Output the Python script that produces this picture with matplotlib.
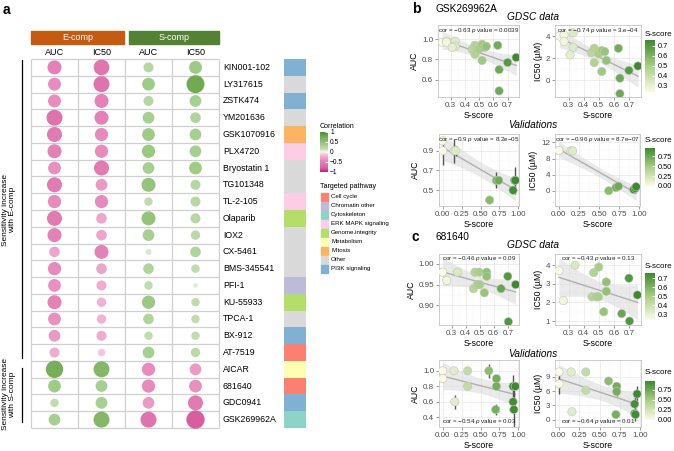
import matplotlib
matplotlib.use("Agg")
import matplotlib.pyplot as plt
import numpy as np
from matplotlib.colors import LinearSegmentedColormap, Normalize
from matplotlib.cm import ScalarMappable
from matplotlib.patches import Rectangle

plt.rcParams["font.family"] = ["Liberation Sans", "DejaVu Sans"]
plt.rcParams["mathtext.fontset"] = "custom"
plt.rcParams["mathtext.it"] = "Liberation Sans:italic"
plt.rcParams["mathtext.rm"] = "Liberation Sans"

W, H = 674, 451

# ---- panel a data ----
drugs = ["KIN001-102", "LY317615", "ZSTK474", "YM201636", "GSK1070916", "PLX4720",
         "Bryostatin 1", "TG101348", "TL-2-105", "Olaparib", "IOX2", "CX-5461",
         "BMS-345541", "PFI-1", "KU-55933", "TPCA-1", "BX-912", "AT-7519",
         "AICAR", "681640", "GDC0941", "GSK269962A"]
drug_pathway = ["PI3K signaling", "Other", "PI3K signaling", "Other", "Mitosis",
                "ERK MAPK signaling", "Other", "Other", "ERK MAPK signaling",
                "Genome.integrity", "Other", "Other", "Other", "Chromatin other",
                "Genome.integrity", "Other", "PI3K signaling", "Cell cycle",
                "Metabolism", "Cell cycle", "PI3K signaling", "Cytoskeleton"]
pathways = ["Cell cycle", "Chromatin other", "Cytoskeleton", "ERK MAPK signaling",
            "Genome.integrity", "Metabolism", "Mitosis", "Other", "PI3K signaling"]
pathway_colors = ["#fb8072", "#bebada", "#8dd3c7", "#fccde5", "#b3de69",
                  "#ffffb3", "#fdb462", "#d9d9d9", "#80b1d3"]
col_labels = ["AUC", "IC50", "AUC", "IC50"]
e_auc = [-0.47, -0.40, -0.40, -0.61, -0.54, -0.47, -0.39, -0.54, -0.42, -0.54, -0.47,
         -0.27, -0.42, -0.39, -0.47, -0.39, -0.33, -0.24, 0.72, 0.39, 0.17, 0.33]
e_ic50 = [-0.59, -0.61, -0.47, -0.47, -0.42, -0.42, -0.54, -0.33, -0.42, -0.27, -0.27,
          -0.47, -0.27, -0.24, -0.21, -0.21, -0.24, -0.13, 0.61, 0.33, 0.33, 0.61]
s_auc = [0.24, 0.39, 0.24, 0.33, 0.39, 0.42, 0.33, 0.47, 0.17, 0.47, 0.33,
         0.09, 0.27, 0.17, 0.42, 0.27, 0.17, 0.33, -0.42, -0.42, -0.33, -0.61]
s_ic50 = [0.40, 0.77, 0.33, 0.27, 0.33, 0.33, 0.39, 0.24, 0.24, 0.24, 0.21,
          0.27, 0.17, 0.06, 0.17, 0.17, 0.17, 0.21, -0.33, -0.39, -0.54, -0.80]

# ---- panel b data (GSK269962A) ----
b_gdsc_s = [0.24, 0.27, 0.27, 0.33, 0.33, 0.31, 0.45, 0.47, 0.47, 0.50,
            0.52, 0.52, 0.54, 0.55, 0.63, 0.64, 0.64, 0.70, 0.76]
b_gdsc_auc = [0.97, 0.98, 0.97, 0.98, 0.93, 0.92, 0.90, 0.94, 0.85, 0.90,
              0.95, 0.79, 0.92, 0.93, 0.94, 0.70, 0.49, 0.77, 0.82]
b_gdsc_ic50 = [4.0, 4.1, 3.5, 4.3, 3.0, 2.3, 2.5, 2.9, 1.6, 2.4,
               2.7, 0.8, 2.6, 1.8, 2.9, 0.2, -1.2, 0.9, 1.3]
b_val_s = [0.00, 0.00, 0.15, 0.17, 0.62, 0.71, 0.74, 0.93, 0.95, 0.96]
b_val_auc = [1.00, 0.90, 0.90, 0.90, 0.40, 0.60, 0.60, 0.50, 0.60, 0.60]
b_val_auc_err = [0.0, 0.14, 0.12, 0.05, 0.0, 0.08, 0.0, 0.0, 0.14, 0.05]
b_val_ic50 = [10.0, 10.0, 9.9, 9.9, 0.0, 0.8, 1.1, 0.3, 0.6, 1.0]
b_notes = ["cor = −0.63 $p$ value = 0.0039", "cor = −0.74 $p$ value = 3.e−04",
           "cor = −0.9 $p$ value = 8.2e−05", "cor = −0.96 $p$ value = 8.7e−07"]

# ---- panel c data (681640) ----
c_gdsc_s = [0.236, 0.265, 0.343, 0.455, 0.466, 0.483, 0.497, 0.50, 0.533, 0.55,
            0.55, 0.652, 0.70, 0.704, 0.756]
c_gdsc_auc = [0.98, 0.96, 0.98, 0.94, 0.98, 0.95, 0.98, 0.95, 0.93, 0.98,
              0.97, 0.94, 0.97, 0.86, 0.95]
c_gdsc_ic50 = [3.7, 2.1, 4.0, 2.3, 3.6, 2.3, 2.3, 3.9, 1.5, 3.1,
               2.6, 1.4, 3.3, 1.0, 2.4]
c_val_s = [0.00, 0.00, 0.15, 0.16, 0.33, 0.33, 0.61, 0.71, 0.71, 0.70, 0.93, 0.96, 0.93, 0.94]
c_val_auc = [1.00, 0.90, 1.00, 0.60, 1.00, 0.80, 1.00, 0.90, 0.80, 0.50, 0.80, 0.80, 0.60, 0.50]
c_val_auc_err = [0.0, 0.05, 0.0, 0.09, 0.03, 0.0, 0.09, 0.0, 0.0, 0.07, 0.14, 0.0, 0.05, 0.25]
c_val_ic50 = [10.0, 7.5, 10.0, 1.7, 10.0, 6.2, 8.1, 7.0, 5.9, 1.1, 1.3, 5.4, 3.3, 1.1]
c_val_ic50_err = [0.0, 2.0, 0.0, 0.5, 0.3, 0.0, 0.0, 0.5, 1.0, 0.0, 0.8, 1.7, 1.5, 1.3]
c_notes = ["cor = −0.46 $p$ value = 0.09", "cor = −0.43 $p$ value = 0.13",
           "cor = −0.54 $p$ value = 0.03", "cor = −0.64 $p$ value = 0.01"]

cor_cmap = LinearSegmentedColormap.from_list("cor", [
    (0.0, "#c51b7d"), (0.1, "#d8609e"), (0.275, "#e585b8"), (0.425, "#f3bcd8"),
    (0.5, "#f7f7f7"), (0.575, "#c3ddb2"), (0.7, "#9ccb83"), (0.885, "#72aa54"), (1.0, "#4a8f30")])
s_cmap = LinearSegmentedColormap.from_list("s", ["#fbfbe6", "#a8cf85", "#3b8b2c"])

fig = plt.figure(figsize=(W / 100, H / 100), dpi=100)


def px_axes(l, t, r, b):
    return fig.add_axes([l / W, 1 - b / H, (r - l) / W, (b - t) / H])


# ---------------- panel a ----------------
ax = px_axes(31, 59, 219, 428)
n = len(drugs)
rows = np.arange(n) + 0.5
ax.set_xlim(0, 4)
ax.set_ylim(n, 0)
ax.axis("off")
ax.hlines(np.arange(n + 1), 0, 4, color="#d0d0d0", lw=0.9, clip_on=False)
ax.vlines(np.arange(5), 0, n, color="#d0d0d0", lw=0.9, clip_on=False)
for j, vals in enumerate([e_auc, e_ic50, s_auc, s_ic50]):
    v = np.array(vals)
    ax.scatter(np.full(n, j + 0.5), rows, s=217 * np.abs(v), c=v, cmap=cor_cmap,
               vmin=-1, vmax=1, linewidths=0, zorder=3, clip_on=False)
    ax.text(j + 0.5, -0.36, col_labels[j], ha="center", va="center", fontsize=6.5)
for i, d in enumerate(drugs):
    ax.text(4.085, rows[i], d, ha="left", va="center", fontsize=6.3)
bar_colors = [pathway_colors[pathways.index(p)] for p in drug_pathway]
ax.barh(rows, 0.468, left=5.383, height=1.0, color=bar_colors, clip_on=False)
ax.add_patch(Rectangle((0, -1.67), 1.98, 0.78, color="#c55a11", clip_on=False))
ax.add_patch(Rectangle((2.085, -1.67), 1.915, 0.78, color="#548235", clip_on=False))
ax.text(0.99, -1.28, "E-comp", color="white", ha="center", va="center", fontsize=6.5)
ax.text(3.04, -1.28, "S-comp", color="white", ha="center", va="center", fontsize=6.5)
ax.plot([-0.19, -0.19], [0.06, 17.85], color="black", lw=0.9, clip_on=False)
ax.plot([-0.19, -0.19], [18.4, 21.65], color="black", lw=0.9, clip_on=False)
ax.text(-0.47, 9.0, "Sensitivity increase\nwith E-comp", rotation=90, ha="center",
        va="center", fontsize=6, linespacing=1.1)
ax.text(-0.47, 20.0, "Sensitivity increase\nwith S-comp", rotation=90, ha="center",
        va="center", fontsize=6, linespacing=1.1)

# correlation colorbar
cax = px_axes(320, 132, 328, 172)
cb = fig.colorbar(ScalarMappable(Normalize(-1, 1), cor_cmap), cax=cax)
cb.set_ticks([1, 0.5, 0, -0.5, -1])
cb.set_ticklabels(["1", "0.5", "0", "−0.5", "−1"])
cb.outline.set_visible(False)
cax.tick_params(length=2, width=0.6, color="white", direction="in", labelsize=4.8, pad=1.5)


# ---------------- scatter panels ----------------
def scatter_panel(rect, s, v, err, note, note_y, ylabel, yticks, ylim, xlim, xticks,
                  xticklabels, norm):
    a = px_axes(*rect)
    s = np.asarray(s, float)
    v = np.asarray(v, float)
    k, c0 = np.polyfit(s, v, 1)
    xs = np.linspace(s.min(), s.max(), 80)
    m = len(s)
    se = np.sqrt(np.sum((v - (k * s + c0)) ** 2) / (m - 2))
    tval = 1.96 + 2.37 / (m - 2)
    band = tval * se * np.sqrt(1 / m + (xs - s.mean()) ** 2 / np.sum((s - s.mean()) ** 2))
    fit = k * xs + c0
    a.fill_between(xs, fit - band, fit + band, color="#dcdcdc", alpha=0.6, lw=0, zorder=1)
    a.plot(xs, fit, color="#b0b0b0", lw=1, zorder=2)
    if err is not None:
        e = np.asarray(err, float)
        keep = e > 0
        a.vlines(s[keep], (v - e)[keep], (v + e)[keep], color="#555555", lw=1, zorder=3)
    a.scatter(s, v, c=s, cmap=s_cmap, norm=norm, s=36, edgecolors="#c4c4c4",
              linewidths=0.4, zorder=4)
    a.set_xlim(*xlim)
    a.set_ylim(*ylim)
    a.set_xticks(xticks)
    a.set_xticklabels(xticklabels)
    a.set_yticks(yticks)
    a.set_xticks([(xticks[i] + xticks[i + 1]) / 2 for i in range(len(xticks) - 1)], minor=True)
    a.set_yticks([(yticks[i] + yticks[i + 1]) / 2 for i in range(len(yticks) - 1)], minor=True)
    a.grid(True, which="major", color="#e8e8e8", lw=0.5)
    a.grid(True, which="minor", color="#f3f3f3", lw=0.3)
    a.set_axisbelow(True)
    for sp in a.spines.values():
        sp.set_color("#c4c4c4")
        sp.set_linewidth(0.6)
    a.tick_params(which="major", length=2, width=0.5, color="#777777", labelsize=5.8,
                  labelcolor="#4d4d4d", pad=1.5)
    a.tick_params(which="minor", length=0)
    a.set_xlabel("S-score", fontsize=6.3, labelpad=1.5)
    a.set_ylabel(ylabel, fontsize=6.3, labelpad=2)
    a.text(0.5, note_y, note, transform=a.transAxes, ha="center", va="center",
           fontsize=4.5, color="#222222", zorder=5)
    return a


def s_colorbar(rect, norm, ticks, labels, title_y):
    c = px_axes(*rect)
    cbar = fig.colorbar(ScalarMappable(norm, s_cmap), cax=c)
    cbar.set_ticks(ticks)
    cbar.set_ticklabels(labels)
    cbar.outline.set_visible(False)
    c.tick_params(length=2, width=0.6, color="white", direction="in", labelsize=5.3, pad=2)
    fig.text(rect[0] / W, 1 - title_y / H, "S-score", fontsize=5.8, ha="left", va="center")


gdsc_xlim = (0.21, 0.78)
gdsc_ticks = [0.3, 0.4, 0.5, 0.6, 0.7]
gdsc_lbls = ["0.3", "0.4", "0.5", "0.6", "0.7"]
val_xlim = (-0.048, 1.008)
val_ticks = [0, 0.25, 0.5, 0.75, 1.0]
val_lbls = ["0.00", "0.25", "0.50", "0.75", "1.00"]

nb1 = Normalize(min(b_gdsc_s), max(b_gdsc_s))
nb2 = Normalize(min(b_val_s), max(b_val_s))
nc1 = Normalize(min(c_gdsc_s), max(c_gdsc_s))
nc2 = Normalize(min(c_val_s), max(c_val_s))

scatter_panel((438, 25, 519, 97), b_gdsc_s, b_gdsc_auc, None, b_notes[0], 0.93, "AUC",
              [0.6, 0.8, 1.0], (0.43, 1.14), gdsc_xlim, gdsc_ticks, gdsc_lbls, nb1)
scatter_panel((555, 25, 641, 97), b_gdsc_s, b_gdsc_ic50, None, b_notes[1], 0.93, "IC50 (µM)",
              [0, 2, 4], (-1.5, 5.0), gdsc_xlim, gdsc_ticks, gdsc_lbls, nb1)
scatter_panel((439, 134, 519, 206), b_val_s, b_val_auc, b_val_auc_err, b_notes[2], 0.93, "AUC",
              [0.5, 0.7, 0.9], (0.34, 1.07), val_xlim, val_ticks, val_lbls, nb2)
scatter_panel((555, 134, 640, 206), b_val_s, b_val_ic50, None, b_notes[3], 0.93, "IC50 (µM)",
              [0, 4, 8, 12], (-3.8, 14.1), val_xlim, val_ticks, val_lbls, nb2)
scatter_panel((439, 254, 519, 325), c_gdsc_s, c_gdsc_auc, None, c_notes[0], 0.93, "AUC",
              [0.90, 0.95, 1.00], (0.852, 1.024), gdsc_xlim, gdsc_ticks, gdsc_lbls, nc1)
scatter_panel((555, 254, 641, 325), c_gdsc_s, c_gdsc_ic50, None, c_notes[1], 0.93, "IC50 (µM)",
              [1, 2, 3, 4], (0.79, 4.6), gdsc_xlim, gdsc_ticks, gdsc_lbls, nc1)
scatter_panel((439, 360, 519, 427), c_val_s, c_val_auc, c_val_auc_err, c_notes[2], 0.08, "AUC",
              [0.4, 0.6, 0.8, 1.0], (0.275, 1.14), val_xlim, val_ticks, val_lbls, nc2)
scatter_panel((555, 360, 641, 427), c_val_s, c_val_ic50, c_val_ic50_err, c_notes[3], 0.08,
              "IC50 (µM)", [0, 3, 6, 9], (-1.5, 12.5), val_xlim, val_ticks, val_lbls, nc2)

s_colorbar((645, 40, 655, 92), nb1, [0.3, 0.4, 0.5, 0.6, 0.7], gdsc_lbls, 34)
s_colorbar((645, 148, 655, 186), nb2, [0, 0.25, 0.5, 0.75], val_lbls[:4], 141)
s_colorbar((645, 273, 655, 320), nc1, [0.3, 0.4, 0.5, 0.6, 0.7], gdsc_lbls, 267)
s_colorbar((645, 381, 655, 420), nc2, [0, 0.25, 0.5, 0.75], val_lbls[:4], 373)

# ---------------- free text / legend overlay ----------------
ov = fig.add_axes([0, 0, 1, 1])
ov.set_xlim(0, W)
ov.set_ylim(H, 0)
ov.axis("off")
ov.text(3, 10, "a", fontsize=10, fontweight="bold", va="center")
ov.text(412, 9, "b", fontsize=10, fontweight="bold", va="center")
ov.text(436, 9, "GSK269962A", fontsize=7.3, va="center")
ov.text(412, 237, "c", fontsize=10, fontweight="bold", va="center")
ov.text(436, 237, "681640", fontsize=7.3, va="center")
for y, t in [(17, "GDSC data"), (125, "Validations"), (245, "GDSC data"), (354, "Validations")]:
    ov.text(533, y, t, fontsize=7.3, style="italic", ha="center", va="center")
ov.text(320, 127, "Correlation", fontsize=5.1, va="center")
ov.text(320, 186, "Targeted pathway", fontsize=5.1, va="center")
for i, (p, col) in enumerate(zip(pathways, pathway_colors)):
    y = 196.7 + i * 9.0
    ov.add_patch(Rectangle((321, y - 4), 7, 8, color=col))
    ov.text(331, y, p, fontsize=4.4, va="center")

fig.savefig("out.png", dpi=100)
